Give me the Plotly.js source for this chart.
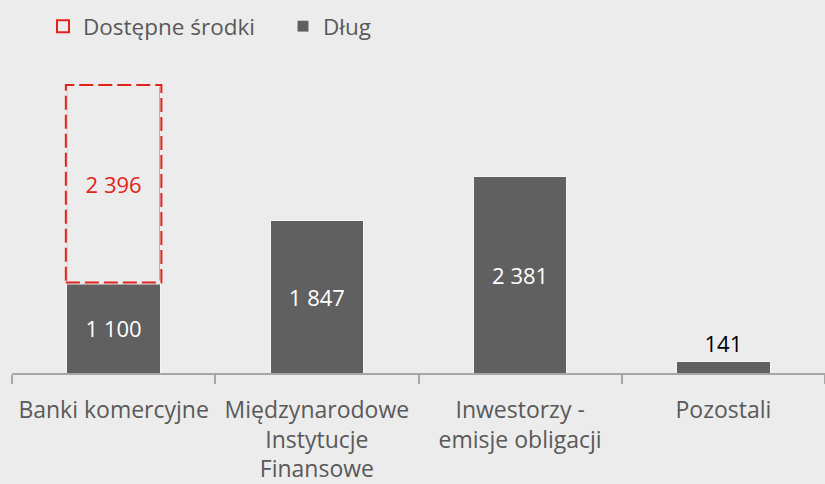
<!DOCTYPE html>
<html><head><meta charset="utf-8">
<script src="https://cdn.plot.ly/plotly-3.0.1.min.js"></script>
<style>html,body{margin:0;padding:0;background:#ececec;}#chart{width:825px;height:484px;}</style>
</head><body><div id="chart"></div>
<script>
const categories = ["Banki komercyjne", "Międzynarodowe<br>Instytucje<br>Finansowe", "Inwestorzy -<br>emisje obligacji", "Pozostali"];
const dlug = [1100, 1847, 2381, 141];
const dostepne = [2396, null, null, null];
const seriesNames = ["Dostępne środki", "Dług"];

const RED = "#e2231a", GRAY = "#606060", TXT = "#595959", BG = "#ececec";
const BARW = 0.46;
const fmt = v => v == null ? "" : String(v).replace(/\B(?=(\d{3})+(?!\d))/g, " ");

const traceDlug = {
  type: "bar", name: seriesNames[1], x: categories, y: dlug, width: BARW,
  marker: {color: GRAY, line: {color: "#f2f6f6", width: 1}},
  text: dlug.map(fmt), textposition: dlug.map(v => v < 500 ? "outside" : "inside"),
  insidetextanchor: "middle", constraintext: "none", cliponaxis: false,
  textfont: {family: "Open Sans", size: 22, color: dlug.map(v => v < 500 ? "#000000" : "#ffffff")},
  hoverinfo: "skip"
};
const traceDost = {
  type: "bar", name: seriesNames[0], x: categories, y: dostepne, width: BARW,
  marker: {color: "rgba(0,0,0,0)", line: {color: RED, width: 2}},
  text: dostepne.map(fmt), textposition: "inside", insidetextanchor: "middle", constraintext: "none",
  textfont: {family: "Open Sans", size: 22, color: RED}, hoverinfo: "skip"
};

// dashed outline for the "Dostępne środki" segments, from data through axes
const shapes = [];
dostepne.forEach((v, i) => {
  if (v == null) return;
  const base = {type: "rect", xref: "x", yref: "y", x0: i - BARW / 2 - 0.005, x1: i + BARW / 2 + 0.005,
    y0: dlug[i], y1: dlug[i] + v, layer: "above", fillcolor: "rgba(0,0,0,0)"};
  shapes.push(Object.assign({}, base, {line: {color: BG, width: 4}}));
  shapes.push(Object.assign({}, base, {line: {color: RED, width: 2, dash: "14px,5px"}}));
});

const layout = {
  width: 825, height: 484,
  paper_bgcolor: BG, plot_bgcolor: BG,
  margin: {l: 12, r: 0, t: 60, b: 111},
  barmode: "stack",
  showlegend: true,
  legend: {orientation: "h", xref: "container", yref: "container", x: 43 / 825, xanchor: "left",
    y: 1 - 5 / 484, yanchor: "top", traceorder: "reversed", entrywidth: 195,
    font: {family: "Open Sans", size: 22.5, color: TXT}, bgcolor: "rgba(0,0,0,0)"},
  xaxis: {type: "category", showline: true, linecolor: "#a6a6a6", linewidth: 2,
    ticks: "outside", tickson: "boundaries", ticklen: 9, tickcolor: "#a6a6a6", tickwidth: 2,
    ticklabelstandoff: 15,
    tickfont: {family: "Open Sans", size: 23, color: TXT}, showgrid: false, zeroline: false, fixedrange: true},
  yaxis: {visible: false, range: [0, 3800], showgrid: false, zeroline: false, fixedrange: true},
  shapes: shapes
};
Plotly.newPlot("chart", [traceDlug, traceDost], layout, {staticPlot: true, displayModeBar: false});
</script></body></html>
